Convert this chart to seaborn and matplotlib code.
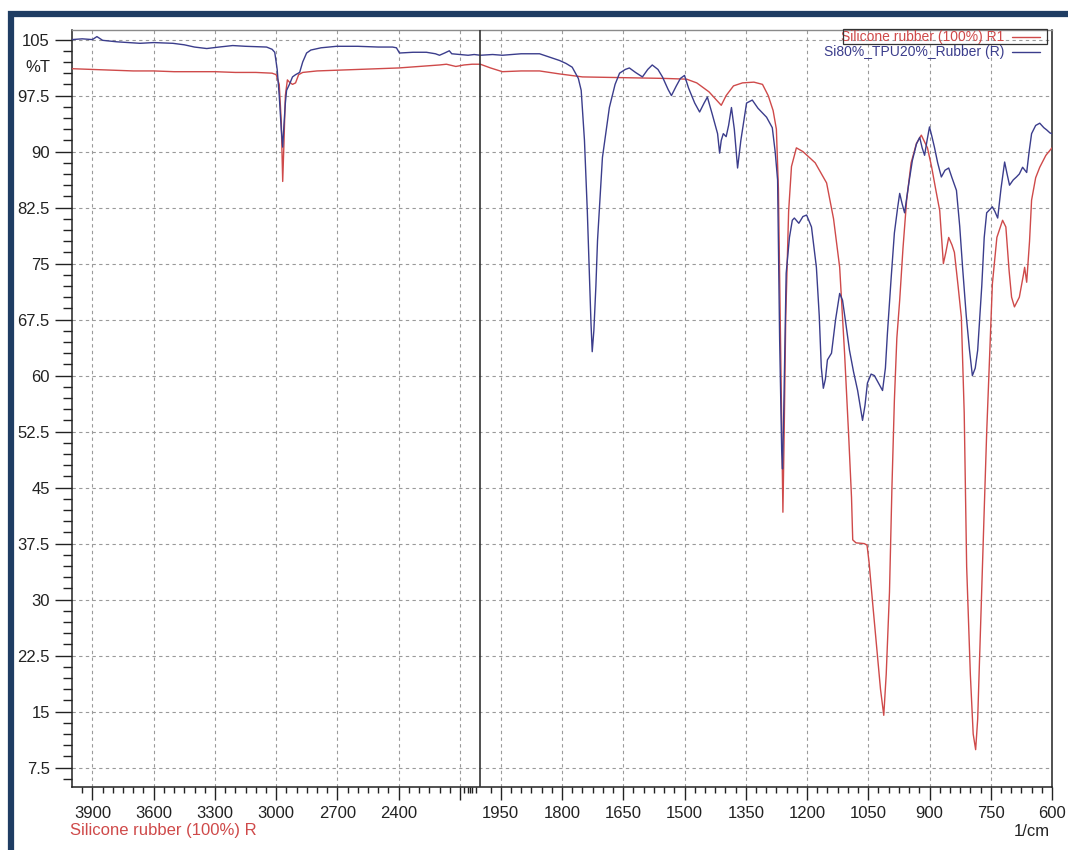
import numpy as np
import pandas as pd
import matplotlib
matplotlib.use("Agg")
import matplotlib.pyplot as plt
import seaborn as sns
from matplotlib.ticker import FixedLocator
from matplotlib.patches import Rectangle
from matplotlib.lines import Line2D

# ---------------------------------------------------------------- data
series_names = ["Silicone rubber (100%) R1", "Si80%_TPU20%_Rubber (R)"]

si_wavenumber = [
    4000, 3900, 3800, 3700, 3600, 3500, 3400, 3300, 3200, 3100, 3020, 3000,
    2985, 2975, 2968, 2962, 2955, 2945, 2935, 2920, 2905, 2890, 2870, 2800,
    2700, 2600, 2500, 2400, 2300, 2200, 2166, 2120, 2080, 2040, 2000, 1975,
    1946, 1900, 1855, 1806, 1750, 1650, 1550, 1495, 1470, 1440, 1420, 1410,
    1398, 1380, 1358, 1330, 1309, 1295, 1283, 1275, 1270, 1265, 1261, 1259,
    1256, 1252, 1245, 1238, 1226, 1210, 1180, 1152, 1135, 1120, 1108, 1098,
    1091, 1088, 1080, 1060, 1053, 1048, 1040, 1030, 1020, 1012, 1006, 998,
    992, 986, 980, 973, 965, 956, 945, 932, 920, 905, 895, 885, 875, 866,
    860, 853, 845, 839, 830, 822, 815, 809, 800, 793, 787, 782, 773, 766,
    760, 746, 735, 721, 713, 705, 699, 692, 680, 670, 667, 662, 655, 650,
    640, 630, 615, 600,
]
si_transmittance = [
    101.1, 101.0, 100.9, 100.8, 100.8, 100.7, 100.7, 100.7, 100.6, 100.6, 100.5, 100.3,
    99.0, 94.0, 86.0, 91.0, 97.5, 99.6, 99.3, 99.0, 99.2, 100.3, 100.6, 100.8,
    100.9, 101.0, 101.1, 101.2, 101.4, 101.6, 101.7, 101.4, 101.6, 101.7, 101.7, 101.2,
    100.7, 100.8, 100.8, 100.4, 100.0, 99.9, 99.8, 99.7, 99.2, 98.0, 96.8, 96.2,
    97.5, 98.8, 99.2, 99.3, 99.0, 97.5, 95.5, 93.0, 85.0, 65.0, 48.0, 41.7,
    52.0, 68.0, 82.0, 88.0, 90.5, 90.0, 88.5, 85.8, 81.0, 74.5, 63.0, 52.0,
    43.7, 38.0, 37.6, 37.5, 37.3, 35.0, 30.0, 24.0, 18.0, 14.5, 20.0, 31.0,
    45.0, 56.7, 65.0, 70.1, 77.0, 83.5, 88.5, 91.1, 92.2, 90.5, 88.0, 85.0, 82.1, 75.0,
    76.5, 78.5, 77.5, 76.5, 72.0, 67.8, 55.0, 34.4, 20.0, 12.0, 9.9, 14.0, 30.0, 42.0,
    52.3, 72.3, 78.5, 80.8, 79.9, 74.0, 70.5, 69.2, 70.5, 73.5, 74.5, 72.5, 78.0, 83.5,
    86.5, 87.9, 89.5, 90.5,
]

blend_wavenumber = [
    4000, 3950, 3900, 3878, 3850, 3780, 3720, 3667, 3600, 3506, 3450, 3400,
    3340, 3280, 3213, 3150, 3047, 3020, 3007, 2995, 2985, 2975, 2968, 2962,
    2955, 2949, 2935, 2920, 2905, 2885, 2870, 2851, 2830, 2780, 2704, 2600,
    2500, 2430, 2411, 2396, 2330, 2264, 2220, 2200, 2175, 2152, 2140, 2100,
    2060, 2030, 2000, 1970, 1946, 1900, 1855, 1806, 1790, 1775, 1760, 1753,
    1745, 1738, 1733, 1729, 1726, 1722, 1717, 1713, 1701, 1684, 1670, 1659,
    1645, 1635, 1620, 1603, 1590, 1579, 1565, 1554, 1540, 1532, 1520, 1510,
    1500, 1490, 1475, 1463, 1452, 1444, 1432, 1419, 1414, 1410, 1405, 1398,
    1392, 1385, 1378, 1370, 1362, 1348, 1334, 1320, 1299, 1285, 1278, 1272,
    1267, 1262, 1260, 1257, 1251, 1243, 1236, 1231, 1220, 1210, 1201, 1189,
    1177, 1170, 1165, 1160, 1155, 1150, 1140, 1130, 1120, 1113, 1105, 1096,
    1086, 1076, 1064, 1058, 1052, 1043, 1035, 1025, 1015, 1008, 1003, 994,
    986, 978, 973, 967, 961, 950, 942, 932, 924, 918, 912, 906, 900, 894,
    888, 880, 871, 862, 853, 845, 834, 826, 819, 810, 802, 795, 788, 782,
    772, 766, 760, 746, 740, 733, 725, 716, 710, 704, 695, 687, 680, 672,
    662, 656, 650, 640, 630, 620, 613, 605, 600,
]
blend_transmittance = [
    105.0, 105.1, 105.0, 105.4, 104.9, 104.7, 104.6, 104.5, 104.6, 104.5, 104.3, 104.0,
    103.8, 104.0, 104.2, 104.1, 104.0, 103.7, 103.3, 101.0, 97.5, 93.0, 90.6, 93.5,
    96.5, 98.2, 99.0, 100.0, 100.3, 100.6, 102.0, 103.2, 103.6, 103.9, 104.1, 104.1,
    104.0, 104.0, 103.9, 103.2, 103.3, 103.3, 103.1, 102.9, 103.2, 103.5, 103.1, 103.0,
    102.9, 103.0, 102.9, 103.0, 102.9, 103.1, 103.1, 102.2, 101.8, 101.3, 99.8, 98.2,
    91.5, 82.0, 73.7, 67.0, 63.2, 66.0, 72.0, 78.1, 89.2, 95.9, 99.0, 100.5,
    101.0, 101.2, 100.6, 100.0, 101.0, 101.6, 101.0, 100.0, 98.3, 97.5, 98.8, 99.8,
    100.2, 98.5, 96.5, 95.3, 96.5, 97.3, 95.0, 92.4, 89.8, 91.5, 92.4, 92.0,
    93.5, 95.9, 93.0, 87.8, 91.5, 96.5, 96.9, 95.8, 94.6, 93.2, 90.0, 86.2,
    64.8, 50.0, 47.5, 55.0, 73.7, 78.5, 80.8, 81.1, 80.4, 81.3, 81.5, 79.9,
    74.5, 68.0, 61.1, 58.3, 59.5, 62.1, 63.0, 67.5, 71.0, 70.1, 67.0, 63.4,
    60.5, 58.0, 54.0, 56.0, 59.0, 60.2, 60.0, 59.0, 58.0, 61.0, 65.7, 73.0,
    79.1, 82.5, 84.4, 83.0, 81.8, 86.0, 88.8, 91.0, 91.9, 90.5, 89.5, 91.5, 93.3, 92.0,
    90.6, 88.5, 86.6, 87.5, 87.8, 86.5, 84.8, 80.0, 74.5, 68.0, 63.4, 60.0, 61.0, 63.4,
    72.0, 78.5, 81.8, 82.6, 82.0, 81.1, 85.0, 88.6, 87.0, 85.5, 86.2, 86.6, 87.0, 87.9,
    87.2, 90.0, 92.4, 93.5, 93.8, 93.2, 92.9, 92.5, 92.4,
]

x_major = [3900, 3600, 3300, 3000, 2700, 2400, 2100,
           1950, 1800, 1650, 1500, 1350, 1200, 1050, 900, 750, 600]
x_major_labels = ["3900", "3600", "3300", "3000", "2700", "2400", "",
                  "1950", "1800", "1650", "1500", "1350", "1200", "1050",
                  "900", "750", "600"]
y_major = [7.5, 15, 22.5, 30, 37.5, 45, 52.5, 60, 67.5, 75, 82.5, 90, 97.5, 105]
y_major_labels = ["7.5", "15", "22.5", "30", "37.5", "45", "52.5", "60",
                  "67.5", "75", "82.5", "90", "97.5", "105"]

RED = "#cf4a4a"
NAVY = "#3b3d8c"

# ------------------------------------------------- split wavenumber axis
# Above 2000 1/cm the axis is compressed to half the scale used below it.
# The mapping is increasing in wavenumber; the axis is drawn inverted.
BREAK = 2000.0


def to_axis(w):
    w = np.asarray(w, dtype=float)
    return np.where(w >= BREAK, w - 4000.0, -2000.0 - 2.0 * (BREAK - w))


def from_axis(u):
    u = np.asarray(u, dtype=float)
    return np.where(u >= -2000.0, u + 4000.0, BREAK - (-u - 2000.0) / 2.0)


# ---------------------------------------------------------------- figure
sns.set_theme(style="white")
plt.rcParams["font.family"] = ["Liberation Sans", "DejaVu Sans"]

W, H = 1068, 850
fig = plt.figure(figsize=(W / 100, H / 100), dpi=100)
fig.patch.set_facecolor("white")

ax_l, ax_r, ax_t, ax_b = 72, 1052, 29.5, 787
ax = fig.add_axes([ax_l / W, 1 - ax_b / H, (ax_r - ax_l) / W, (ax_b - ax_t) / H])
ax.set_facecolor("white")

df_si = pd.DataFrame({"wavenumber": si_wavenumber, "T": si_transmittance})
df_blend = pd.DataFrame({"wavenumber": blend_wavenumber, "T": blend_transmittance})

sns.lineplot(data=df_si, x="wavenumber", y="T", ax=ax, color=RED,
             lw=1.0, sort=False, estimator=None, zorder=3)
sns.lineplot(data=df_blend, x="wavenumber", y="T", ax=ax, color=NAVY,
             lw=1.0, sort=False, estimator=None, zorder=4)

ax.set_xscale("function", functions=(to_axis, from_axis))
ax.set_xlim(4000, 600)
ax.set_ylim(4.9, 106.35)
ax.set_xlabel("")
ax.set_ylabel("")

# ticks
ax.xaxis.set_major_locator(FixedLocator(x_major))
ax.set_xticklabels(x_major_labels)
x_minor = [w for w in range(3950, 2000, -50) if w not in x_major]
x_minor += [2080, 2060, 2040, 2020]
x_minor += [w for w in range(1975, 600, -25) if w not in x_major]
ax.xaxis.set_minor_locator(FixedLocator(x_minor))

ax.yaxis.set_major_locator(FixedLocator(y_major))
ax.set_yticklabels(y_major_labels)
ax.yaxis.set_minor_locator(FixedLocator(list(np.arange(6.0, 106.0, 1.5))))

ax.tick_params(axis="both", which="both", direction="out", colors="#222222",
               labelcolor="#222222", width=1.0)
ax.tick_params(axis="x", which="major", length=9, pad=5, labelsize=12, bottom=True)
ax.tick_params(axis="x", which="minor", length=4, bottom=True)
ax.tick_params(axis="y", which="major", length=12, pad=4, labelsize=12, left=True)
ax.tick_params(axis="y", which="minor", length=6.5, left=True)

# grid
ax.grid(True, which="major", axis="both", color="#9a9a9a", lw=0.8,
        ls=(0, (3, 3)))
ax.set_axisbelow(True)

# frame
for side in ["left", "bottom", "right"]:
    ax.spines[side].set_color("#222222")
    ax.spines[side].set_linewidth(1.1)
ax.spines["top"].set_color("#8a8a8a")
ax.spines["top"].set_linewidth(1.0)

# boundary between the two wavenumber scales
ax.axvline(BREAK, color="#333333", lw=1.2, zorder=5)

# y-axis unit written in the tick column
ax.text(-0.0225, 101.3, "%T", transform=ax.get_yaxis_transform(),
        ha="right", va="center", fontsize=12, color="#222222")

# legend in the top-right corner
leg_y = [0.990, 0.970]
for name, colr, yy in zip(series_names, [RED, NAVY], leg_y):
    ax.text(0.951, yy, name, transform=ax.transAxes, ha="right", va="center",
            fontsize=10, color=colr, zorder=6)
    ax.add_line(Line2D([0.959, 0.988], [yy, yy], transform=ax.transAxes,
                       color=colr, lw=1.0, zorder=6))
ax.add_patch(Rectangle((0.787, 0.9806), 0.995 - 0.787, 1.0 - 0.9806,
                       transform=ax.transAxes, fill=False, ec="#333333",
                       lw=0.9, zorder=6, clip_on=False))

# captions under the axis
fig.text(70 / W, 1 - 831 / H, "Silicone rubber (100%) R", color=RED,
         fontsize=12, ha="left", va="center")
fig.text(1050 / W, 1 - 832 / H, "1/cm", color="#222222", fontsize=12,
         ha="right", va="center")

# dark frame around the figure
fig.add_artist(Rectangle((10.5 / W, -0.05), 1.2, 1 - 13.5 / H + 0.05,
                         transform=fig.transFigure, fill=False,
                         ec="#1f3d63", lw=4.5, clip_on=False))

fig.savefig("out.png", dpi=100, facecolor="white")
